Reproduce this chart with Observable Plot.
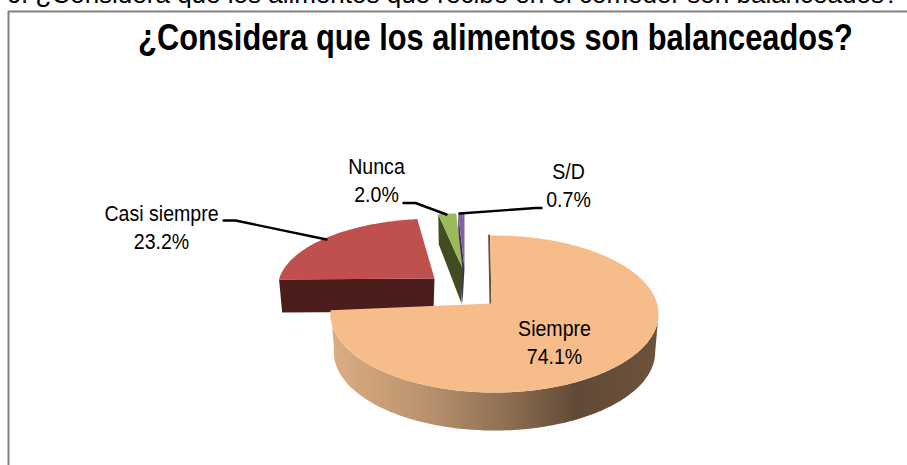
<!DOCTYPE html>
<html><head><meta charset="utf-8">
<style>html,body{margin:0;padding:0;background:#fff;overflow:hidden}svg{display:block}</style>
<script src="https://cdn.jsdelivr.net/npm/d3@7"></script>
<script src="https://cdn.jsdelivr.net/npm/@observablehq/plot@0.6"></script>
</head><body><div id="c"></div>
<script>
const categories = ["Siempre", "Casi siempre", "Nunca", "S/D"];
const values = [74.1, 23.2, 2.0, 0.7];
const topColors = ["#f6bd8b", "#c0504d", "#9bbb59", "#8064a2"];
const sideColors = ["url(#wall)", "#4b1e1d", "#414c23", "#41325a"];
const percentLabels = ["74.1%", "23.2%", "2.0%", "0.7%"];
const chartTitle = "¿Considera que los alimentos son balanceados?";
const cutHeading = "6. ¿Considera que los alimentos que recibe en el comedor son balanceados?";

// geometry of the exploded 3D pie (pixel space of the x/y scales)
const W = 907, H = 465, RX = 162.5, RY = 77.1, K = 0.134;
const layout = [
  {ax: 491,   ay: 303, cx: 494,   sx: 1,    sy: 1,    rot: -1.75, depth: 38},
  {ax: 434,   ay: 278, cx: 434,   sx: .955, sy: .88,  rot: 2.5,   depth: 33},
  {ax: 462,   ay: 268, cx: 462,   sx: 1,    sy: .81,  rot: 0,     depth: 35},
  {ax: 464,   ay: 268, cx: 464,   sx: 1,    sy: .81,  rot: 0,     depth: 35}
];
const pie = d3.pie().sort(null)(values);
const slices = pie.map((p, i) => ({...p, ...layout[i], a0: p.startAngle + layout[i].rot * Math.PI / 180, a1: p.endAngle + layout[i].rot * Math.PI / 180}));

function rim(s, t, z = 0) {
  const u = Math.sin(t), v = Math.cos(t), w = 1 + K * v;
  const shrink = z ? 0.98 : 1;
  return [s.cx + s.sx * shrink * RX * u / w, s.ay + z - s.sy * RY * v / w];
}
function arcPts(s, a, b, z = 0) {
  const n = Math.max(2, Math.ceil(Math.abs(b - a) / 0.02));
  return d3.range(n + 1).map(i => rim(s, a + (b - a) * i / n, z));
}
const poly = (pts, fill) => Plot.line(pts, {x: d => d[0], y: d => d[1], fill, stroke: "none", curve: "linear"});

const marks = [];
marks.push(() => {
  const defs = d3.create("svg:defs");
  const g = defs.append("linearGradient").attr("id", "wall").attr("gradientUnits", "userSpaceOnUse")
    .attr("x1", 330).attr("x2", 658).attr("y1", 0).attr("y2", 0);
  [[0, "#dcae83"], [.3, "#b8916c"], [.55, "#8b6d50"], [.75, "#604a37"], [1, "#6e533b"]]
    .forEach(([o, c]) => g.append("stop").attr("offset", o).attr("stop-color", c));
  return defs.node();
});
// frame
marks.push(Plot.line([[W, 11], [8, 11], [8, H]], {x: d => d[0], y: d => d[1], stroke: "#808080", strokeWidth: 2}));
// back slices
for (const i of [3, 2, 1]) {
  const s = slices[i];
  const r0 = rim(s, s.a0), r0z = rim(s, s.a0, i === 1 ? s.depth : 30);
  marks.push(poly([r0, [s.ax, s.ay], [s.ax - (i === 3 ? 2 : 1), s.ay + s.depth], r0z], sideColors[i]));
  marks.push(poly([[s.ax, s.ay], ...arcPts(s, s.a0, s.a1)], topColors[i]));
}
// Siempre
{
  const s = slices[0];
  const extreme = Math.PI - Math.acos(K);
  marks.push(poly([...arcPts(s, extreme, s.a1), ...arcPts(s, s.a1, extreme, s.depth)], sideColors[0]));
  marks.push(Plot.line([rim(s, s.a0), [s.ax, s.ay]], {x: d => d[0], y: d => d[1], stroke: "#6f5037", strokeWidth: 2, dx: -1}));
  marks.push(poly([[s.ax, s.ay], ...arcPts(s, s.a0, s.a1)], topColors[0]));
}
// leader lines
const leaders = [
  [[223, 220], [235, 220], [326, 239]],
  [[403, 202.5], [415, 202.5], [446, 214]],
  [[459, 213], [535, 207.5], [541, 207.5]]
];
leaders.forEach(l => marks.push(Plot.line(l, {x: d => d[0], y: d => d[1], stroke: "#000", strokeWidth: 2.4, curve: "linear"})));

// labels
const labelAt = [[554, 341], [161, 225.6], [376, 179], [568, 183.6]];
marks.push(Plot.text(categories.map((c, i) => ({t: c + "\n" + percentLabels[i], x: labelAt[i][0], y: labelAt[i][1]})), {
  x: "x", y: "y", text: "t", fontSize: 21.5, lineHeight: 1.3, fontFamily: "Liberation Sans", fill: "#000", textAnchor: "middle", stroke: "none", className: "squeeze-l"
}));
marks.push(Plot.text([chartTitle], {x: () => 495, y: () => 38, text: d => d, fontSize: 36, fontWeight: "bold", fontFamily: "Liberation Sans", fill: "#000", textAnchor: "middle", className: "squeeze-t"}));
marks.push(Plot.text([cutHeading], {x: () => 452, y: () => -5.5, text: d => d, fontSize: 26, fontFamily: "Liberation Sans", fill: "#000", textAnchor: "middle"}));

const chart = Plot.plot({
  width: W, height: H, margin: 0,
  x: {domain: [0, W], range: [0, W], axis: null},
  y: {domain: [0, H], range: [0, H], axis: null},
  style: {background: "#fff"},
  marks
});
const squeeze = (sel, k) => d3.select(chart).selectAll(sel + " text").attr("transform", function () { return (this.getAttribute("transform") || "") + ` scale(${k},1)`; });
squeeze(".squeeze-l", 0.91);
squeeze(".squeeze-t", 0.855);
document.getElementById("c").append(chart);
</script></body></html>
